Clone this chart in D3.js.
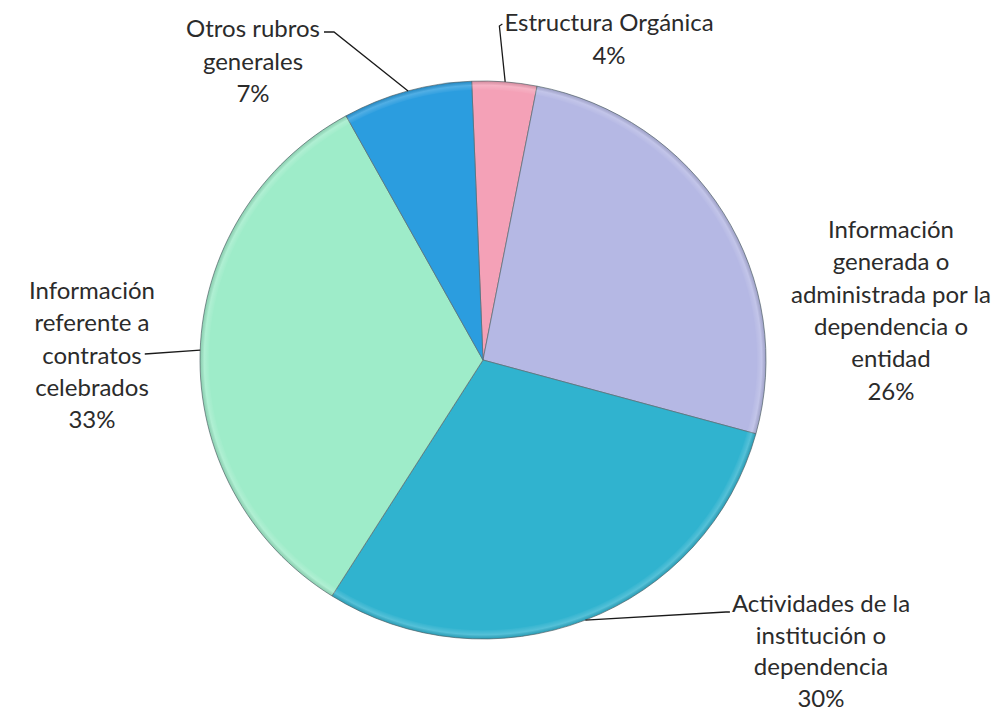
<!DOCTYPE html>
<html>
<head>
<meta charset="utf-8">
<script src="https://cdn.jsdelivr.net/npm/d3@7"></script>
<style>
  html, body { margin: 0; padding: 0; background: #ffffff; }
  svg { display: block; }
  text { font-family: Lato, "Open Sans", sans-serif; fill: #2b2b2b; }
</style>
</head>
<body>
<svg id="chart" width="1001" height="713"></svg>
<script>
// ---- data ----
const categories = [
  "Estructura Orgánica",
  "Información generada o administrada por la dependencia o entidad",
  "Actividades de la institución o dependencia",
  "Información referente a contratos celebrados",
  "Otros rubros generales"
];
const values = [3.7, 26.2, 29.7, 33.0, 7.4];
const percentLabels = ["4%", "26%", "30%", "33%", "7%"];
const labelLines = [
  ["Estructura Orgánica"],
  ["Información", "generada o", "administrada por la", "dependencia o", "entidad"],
  ["Actividades de la", "institución o", "dependencia"],
  ["Información", "referente a", "contratos", "celebrados"],
  ["Otros rubros", "generales"]
];
const colors = ["#f4a1b7", "#b5b8e4", "#30b3cf", "#9eecc9", "#2b9ddf"];

// ---- layout ----
const cx = 483, cy = 360, rx = 283, ry = 279;
const svg = d3.select("#chart");

const pie = d3.pie().sort(null).value(d => d)
  .startAngle(-2.3 * Math.PI / 180)
  .endAngle(2 * Math.PI - 2.3 * Math.PI / 180);
const arcs = pie(values);
const arc = d3.arc().innerRadius(0).outerRadius(rx);
const rim = d3.arc().innerRadius(rx - 9).outerRadius(rx);

const defs = svg.append("defs");
const g = svg.append("g").attr("transform", `translate(${cx},${cy}) scale(1,${ry / rx})`);

g.selectAll("path.slice").data(arcs).join("path")
  .attr("class", "slice")
  .attr("d", arc)
  .attr("fill", (d, i) => colors[i])
  .attr("stroke", "#5a6a70")
  .attr("stroke-opacity", 0.7)
  .attr("stroke-width", 1);

// subtle bevel highlight near rim
const rg = defs.append("radialGradient").attr("id", "bevel")
  .attr("gradientUnits", "userSpaceOnUse").attr("cx", 0).attr("cy", 0).attr("r", rx);
rg.append("stop").attr("offset", "0.965").attr("stop-color", "#ffffff").attr("stop-opacity", 0);
rg.append("stop").attr("offset", "0.985").attr("stop-color", "#ffffff").attr("stop-opacity", 0.18);
rg.append("stop").attr("offset", "1").attr("stop-color", "#000000").attr("stop-opacity", 0.12);
g.selectAll("path.rim").data(arcs).join("path")
  .attr("class", "rim")
  .attr("d", rim)
  .attr("fill", "url(#bevel)");

// ---- labels ----
const labelPos = [
  { x: 609, y: 31, lh: 32.5 },
  { x: 891, y: 238, lh: 32.3 },
  { x: 821, y: 612, lh: 31.7 },
  { x: 92, y: 299, lh: 32.3 },
  { x: 253, y: 37, lh: 32.5 }
];
const fontSize = 24;
const tspans = [];
labelLines.forEach((lines, i) => {
  const p = labelPos[i];
  const t = svg.append("text")
    .attr("text-anchor", "middle")
    .attr("font-size", fontSize);
  tspans[i] = lines.concat([percentLabels[i]]).map((ln, k) =>
    t.append("tspan").attr("x", p.x).attr("y", p.y + k * p.lh).text(ln).node());
});
function lineLeft(i, k) { return labelPos[i].x - tspans[i][k].getComputedTextLength() / 2; }
function lineRight(i, k) { return labelPos[i].x + tspans[i][k].getComputedTextLength() / 2; }

// ---- leader lines (text -> slice edge) ----
function edgePoint(i, frac) {
  const a = arcs[i].startAngle + (arcs[i].endAngle - arcs[i].startAngle) * frac;
  return [cx + rx * Math.sin(a), cy - ry * Math.cos(a)];
}
const l0 = lineLeft(0, 0), l2 = lineLeft(2, 0), r3 = lineRight(3, 2), r4 = lineRight(4, 0);
const leaders = [
  { i: 0, frac: 0.51, pts: [[l0 - 2, 24], [l0 - 5, 26]] },
  { i: 2, frac: 0.50, pts: [[l2 - 2, 612], [l2 - 6, 612]] },
  { i: 3, frac: 0.503, pts: [[r3 + 3, 354]] },
  { i: 4, frac: 0.51, pts: [[r4 + 4, 32], [r4 + 14, 32]] }
];
const line = d3.line();
leaders.forEach(L => {
  const pts = L.pts.concat([edgePoint(L.i, L.frac)]);
  svg.append("path").attr("d", line(pts))
    .attr("fill", "none").attr("stroke", "#1a1a1a").attr("stroke-width", 1.3);
});
</script>
</body>
</html>
